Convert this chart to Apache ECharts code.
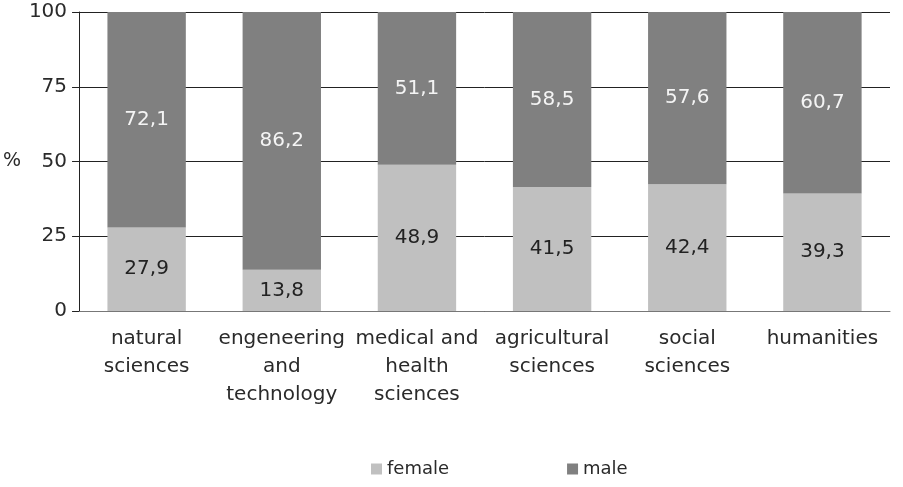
<!DOCTYPE html>
<html>
<head>
<meta charset="utf-8">
<script src="https://cdn.jsdelivr.net/npm/echarts@6/dist/echarts.min.js"></script>
<style>
  html, body { margin: 0; padding: 0; background: #fff; }
  #chart { width: 903px; height: 487px; }
</style>
</head>
<body>
<div id="chart"></div>
<script>
// fields of science, share of female / male researchers (%)
const categories = [
  "natural\nsciences",
  "engeneering\nand\ntechnology",
  "medical and\nhealth\nsciences",
  "agricultural\nsciences",
  "social\nsciences",
  "humanities",
];
const female = [27.9, 13.8, 48.9, 41.5, 42.4, 39.3];
const male = [72.1, 86.2, 51.1, 58.5, 57.6, 60.7];
const yTicks = [0, 25, 50, 75, 100];

const font = "DejaVu Sans";
const comma = (p) => String(p.value).replace(".", ",");

const myChart = echarts.init(document.getElementById("chart"));
myChart.setOption({
  animation: false,
  textStyle: { fontFamily: font },
  grid: { left: 78, right: 13, top: 12, bottom: 176 },
  legend: {
    data: ["female", "male"],
    left: 366,
    top: 455,
    itemWidth: 11,
    itemHeight: 11,
    itemGap: 118,
    icon: "rect",
    textStyle: { fontFamily: font, fontSize: 18, color: "#2a2a2a" },
  },
  xAxis: {
    type: "category",
    data: categories,
    axisLine: { lineStyle: { color: "#777", width: 1 } },
    axisTick: { length: 6, lineStyle: { color: "#333" } },
    axisLabel: {
      interval: 0,
      margin: 14,
      fontFamily: font,
      fontSize: 20,
      lineHeight: 28,
      color: "#2a2a2a",
    },
  },
  yAxis: {
    type: "value",
    min: yTicks[0],
    max: yTicks[yTicks.length - 1],
    interval: 25,
    name: "%",
    nameLocation: "middle",
    nameRotate: 0,
    nameGap: 58,
    nameTextStyle: { fontFamily: font, fontSize: 19, color: "#2a2a2a" },
    axisLine: { show: true, lineStyle: { color: "#222" } },
    axisTick: { show: true, length: 7, lineStyle: { color: "#222" } },
    axisLabel: { fontFamily: font, fontSize: 20, color: "#2a2a2a", margin: 12 },
    splitLine: { lineStyle: { color: "#222", width: 1 } },
  },
  series: [
    {
      name: "female",
      type: "bar",
      stack: "total",
      barWidth: "58%",
      data: female,
      itemStyle: { color: "#c0c0c0" },
      label: {
        show: true,
        position: "inside",
        formatter: comma,
        fontFamily: font,
        fontSize: 20,
        color: "#222",
      },
    },
    {
      name: "male",
      type: "bar",
      stack: "total",
      barWidth: "58%",
      data: male,
      itemStyle: { color: "#808080" },
      label: {
        show: true,
        position: "inside",
        formatter: comma,
        fontFamily: font,
        fontSize: 20,
        color: "#f4f4f4",
      },
    },
  ],
});
</script>
</body>
</html>
